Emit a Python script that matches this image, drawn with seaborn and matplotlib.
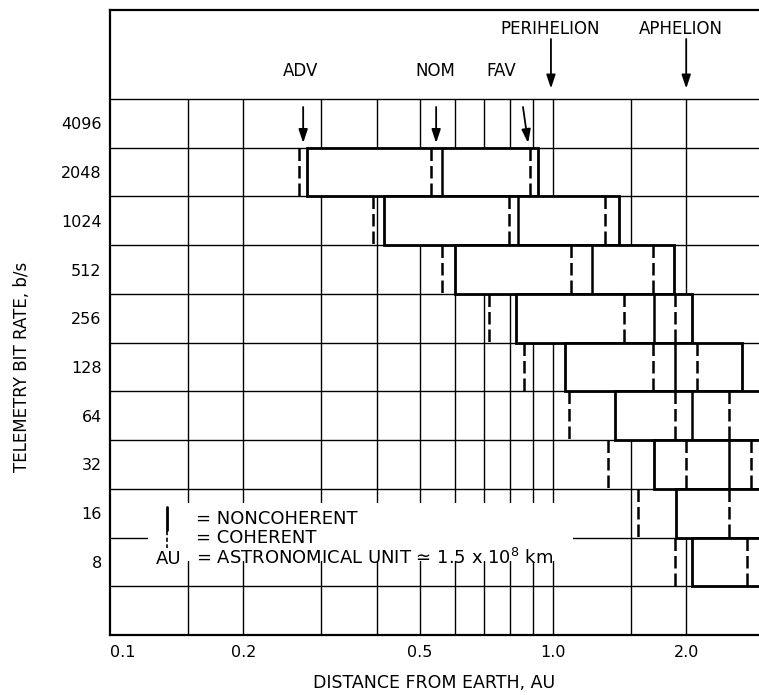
import numpy as np
import pandas as pd
import matplotlib
matplotlib.use("Agg")
import matplotlib.pyplot as plt
import seaborn as sns
from matplotlib.patches import Rectangle

# ---------------- data ----------------
rates = ["4096", "2048", "1024", "512", "256", "128", "64", "32", "16", "8"]
box_rates = ["2048", "1024", "512", "256", "128", "64", "32", "16", "8"]
adv_coh = [0.267, 0.393, 0.563, 0.717, 0.862, 1.086, 1.33, 1.56, 1.887]
adv_noncoh = [0.279, 0.415, 0.602, 0.824, 1.064, 1.383, 1.69, 1.896, 2.066]
nom_coh = [0.532, 0.794, 1.098, 1.45, 1.686, 1.887, 1.996, 2.50, 2.75]
nom_noncoh = [0.562, 0.833, 1.225, 1.69, 1.89, 2.066, 2.50, 3.05, 3.0]
fav_coh = [0.888, 1.31, 1.686, 1.89, 2.115, 2.50, 2.80, 3.7, 4.0]
fav_noncoh = [0.927, 1.41, 1.88, 2.06, 2.67, 3.2, 3.5, 4.5, 4.4]

grid_x = [0.15, 0.2, 0.3, 0.4, 0.5, 0.6, 0.7, 0.8, 0.9, 1.0, 1.5, 2.0]
xtick_vals = [0.1, 0.2, 0.5, 1.0, 2.0]
xtick_labels = ["0.1", "0.2", "0.5", "1.0", "2.0"]

scen_labels = ["ADV", "NOM", "FAV"]
scen_label_x = [0.270, 0.543, 0.763]
scen_arrow_from = [0.273, 0.545, 0.856]
scen_arrow_to = [0.273, 0.545, 0.879]

orbit_labels = ["PERIHELION", "APHELION"]
orbit_label_x = [0.985, 1.946]
orbit_x = [0.99, 2.0]

# ---------------- style ----------------
sns.set_theme(style="white")
plt.rcParams["font.family"] = ["DejaVu Sans"]
plt.rcParams["text.color"] = "black"
plt.rcParams["axes.labelcolor"] = "black"
plt.rcParams["xtick.color"] = "black"
plt.rcParams["ytick.color"] = "black"

W, H = 759, 695
fig = plt.figure(figsize=(W / 100, H / 100), dpi=100)

def fx(px):
    return px / W

def fy(py):
    return 1 - py / H

ax = fig.add_axes([fx(110), fy(635), (W - 110) / W, (635 - 10) / H])
XMAX = 2.92
NROWS = 11
row_h = (635 - 99) / NROWS
header = (99 - 10) / row_h

ax.set_xscale("log")
ax.set_xlim(0.1, XMAX)
ax.set_ylim(NROWS, -header)
ax.set_facecolor("white")

df = pd.DataFrame({
    "rate": box_rates,
    "row": [rates.index(r) for r in box_rates],
    "adv_coh": adv_coh, "adv_nc": adv_noncoh,
    "nom_coh": nom_coh, "nom_nc": nom_noncoh,
    "fav_coh": fav_coh, "fav_nc": fav_noncoh,
})

# grid
ax.vlines(grid_x, 0, NROWS, color="black", lw=1.0, zorder=1)
ax.hlines(np.arange(0, NROWS + 1), 0.1, XMAX, color="black", lw=1.0, zorder=1)

# boxes (ADV noncoherent to FAV noncoherent)
ax.barh(df["row"], df["fav_nc"] - df["adv_nc"], left=df["adv_nc"], height=1.0,
        align="edge", facecolor="white", edgecolor="black", lw=2.0, zorder=2)

# NOM noncoherent solid line
ax.vlines(df["nom_nc"], df["row"], df["row"] + 1, color="black", lw=1.8, zorder=3)
# coherent dashed lines
dash = (0, (5, 2))
for col in ["adv_coh", "nom_coh", "fav_coh"]:
    ax.vlines(df[col], df["row"], df["row"] + 1, color="black", lw=1.8,
              linestyles=[dash], zorder=3)

# header labels and arrows
arrow_kw = dict(arrowstyle="-|>,head_length=0.45,head_width=0.15", color="black",
                lw=1.3, mutation_scale=18, shrinkA=0, shrinkB=0)
y_lab1 = (71.5 - 99) / row_h
for lab, x in zip(scen_labels, scen_label_x):
    ax.text(x, y_lab1, lab, ha="center", va="center", fontsize=12, zorder=6)
for x0, x1 in zip(scen_arrow_from, scen_arrow_to):
    ax.annotate("", xy=(x1, (143 - 99) / row_h), xytext=(x0, (107 - 99) / row_h),
                arrowprops=arrow_kw, zorder=6)
y_lab2 = (29 - 99) / row_h
for lab, x in zip(orbit_labels, orbit_label_x):
    ax.text(x, y_lab2, lab, ha="center", va="center", fontsize=12, zorder=6)
for x in orbit_x:
    ax.annotate("", xy=(x, (88.5 - 99) / row_h), xytext=(x, (39 - 99) / row_h),
                arrowprops=arrow_kw, zorder=6)

# ticks
ax.set_yticks(np.arange(len(rates)) + 0.5)
ax.set_yticklabels(rates, fontsize=11.5)
ax.set_xticks(xtick_vals)
ax.set_xticklabels(xtick_labels, fontsize=11.5)
ax.xaxis.set_minor_locator(matplotlib.ticker.NullLocator())
ax.tick_params(axis="both", length=0, colors="black")
ax.tick_params(axis="y", pad=6)
ax.tick_params(axis="x", pad=7)
ax.get_xticklabels()[0].set_ha("left")

for s in ["left", "top", "bottom"]:
    ax.spines[s].set_visible(True)
    ax.spines[s].set_color("black")
    ax.spines[s].set_linewidth(1.6)
ax.spines["right"].set_visible(False)

# legend block
ax.add_patch(Rectangle((fx(148), fy(561)), fx(573) - fx(148), fy(503) - fy(561),
                       transform=fig.transFigure, facecolor="white", edgecolor="none",
                       zorder=4, clip_on=False))
ax.plot([fx(166.7)] * 2, [fy(507), fy(530)], transform=fig.transFigure, color="black",
        lw=2.0, zorder=5, clip_on=False)
ax.plot([fx(166.7)] * 2, [fy(531), fy(548)], transform=fig.transFigure, color="black",
        lw=1.2, linestyle=(0, (2.5, 1.5)), zorder=5, clip_on=False)
leg_fs = 13
fig.text(fx(196), fy(523.5), "= NONCOHERENT", fontsize=leg_fs, ha="left", va="baseline", zorder=6)
fig.text(fx(196), fy(543), "= COHERENT", fontsize=leg_fs, ha="left", va="baseline", zorder=6)
fig.text(fx(168.3), fy(563.5), "AU", fontsize=leg_fs, ha="center", va="baseline", zorder=6)
fig.text(fx(196), fy(563.5), "= ASTRONOMICAL UNIT \u2243 1.5 x 10$^{8}$ km", fontsize=leg_fs,
         ha="left", va="baseline", zorder=6)

# axis titles
fig.text(fx(22), fy(367), "TELEMETRY BIT RATE, b/s", rotation=90, ha="center", va="center",
         fontsize=12)
fig.text(fx(434), fy(682.5), "DISTANCE FROM EARTH, AU", ha="center", va="center", fontsize=12.5)

fig.savefig("out.png", dpi=100, facecolor="white")
